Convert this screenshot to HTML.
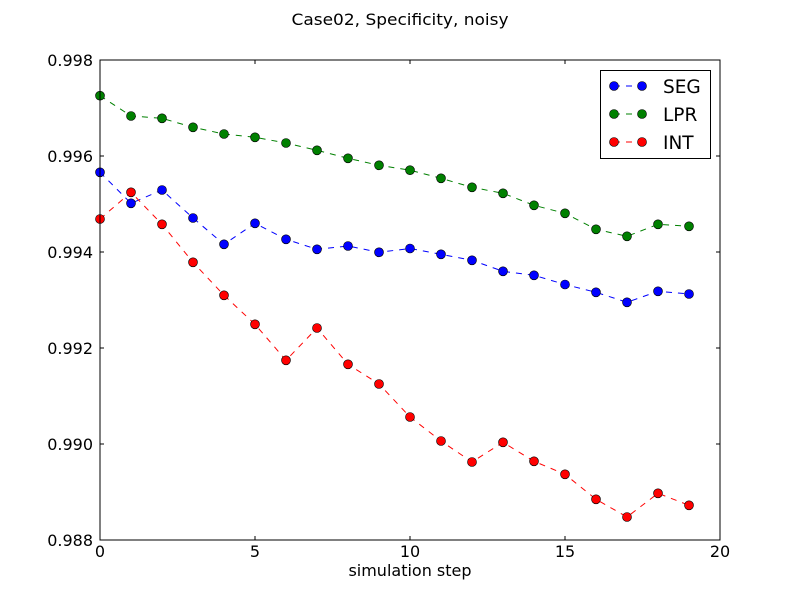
<!DOCTYPE html>
<html><head><meta charset="utf-8"><style>
html,body{margin:0;padding:0;background:#fff;}
svg{display:block;}
text{font-family:"DejaVu Sans","Liberation Sans",sans-serif;fill:#000;}
</style></head><body>
<svg width="800" height="600" xmlns="http://www.w3.org/2000/svg">
<rect width="800" height="600" fill="#fff"/>
<text x="400" y="25" font-size="16" text-anchor="middle" textLength="217" lengthAdjust="spacingAndGlyphs">Case02, Specificity, noisy</text>
<rect x="100" y="60" width="620" height="480" fill="#fff" stroke="none"/>
<g fill="none" stroke-width="1" stroke-dasharray="6,6">
<polyline stroke="#0000ff" points="100,172.3 131,203.3 162,190 193,218 224,244.3 255,223.3 286,239.3 317,249.3 348,246 379,252.3 410,248.5 441,254.3 472,260.3 503,271.3 534,275.3 565,284.5 596,292.3 627,302.3 658,291.3 689,294"/>
</g>
<g fill="#0000ff" stroke="#000" stroke-width="0.6">
<circle cx="100" cy="172.3" r="4.5"/><circle cx="131" cy="203.3" r="4.5"/><circle cx="162" cy="190" r="4.5"/><circle cx="193" cy="218" r="4.5"/><circle cx="224" cy="244.3" r="4.5"/><circle cx="255" cy="223.3" r="4.5"/><circle cx="286" cy="239.3" r="4.5"/><circle cx="317" cy="249.3" r="4.5"/><circle cx="348" cy="246" r="4.5"/><circle cx="379" cy="252.3" r="4.5"/><circle cx="410" cy="248.5" r="4.5"/><circle cx="441" cy="254.3" r="4.5"/><circle cx="472" cy="260.3" r="4.5"/><circle cx="503" cy="271.3" r="4.5"/><circle cx="534" cy="275.3" r="4.5"/><circle cx="565" cy="284.5" r="4.5"/><circle cx="596" cy="292.3" r="4.5"/><circle cx="627" cy="302.3" r="4.5"/><circle cx="658" cy="291.3" r="4.5"/><circle cx="689" cy="294" r="4.5"/>
</g>
<g fill="none" stroke-width="1" stroke-dasharray="6,6">
<polyline stroke="#008000" points="100,95.7 131,116 162,118.3 193,127.3 224,134 255,137.3 286,143 317,150.3 348,158.3 379,165.3 410,170.2 441,178.3 472,187.3 503,193.3 534,205.3 565,213.3 596,229.3 627,236.3 658,224.3 689,226.3"/>
</g>
<g fill="#008000" stroke="#000" stroke-width="0.6">
<circle cx="100" cy="95.7" r="4.5"/><circle cx="131" cy="116" r="4.5"/><circle cx="162" cy="118.3" r="4.5"/><circle cx="193" cy="127.3" r="4.5"/><circle cx="224" cy="134" r="4.5"/><circle cx="255" cy="137.3" r="4.5"/><circle cx="286" cy="143" r="4.5"/><circle cx="317" cy="150.3" r="4.5"/><circle cx="348" cy="158.3" r="4.5"/><circle cx="379" cy="165.3" r="4.5"/><circle cx="410" cy="170.2" r="4.5"/><circle cx="441" cy="178.3" r="4.5"/><circle cx="472" cy="187.3" r="4.5"/><circle cx="503" cy="193.3" r="4.5"/><circle cx="534" cy="205.3" r="4.5"/><circle cx="565" cy="213.3" r="4.5"/><circle cx="596" cy="229.3" r="4.5"/><circle cx="627" cy="236.3" r="4.5"/><circle cx="658" cy="224.3" r="4.5"/><circle cx="689" cy="226.3" r="4.5"/>
</g>
<g fill="none" stroke-width="1" stroke-dasharray="6,6">
<polyline stroke="#ff0000" points="100,219 131,192.3 162,224.3 193,262.3 224,295.3 255,324.3 286,360.3 317,328 348,364.3 379,384 410,417 441,441 472,462 503,442.3 534,461.3 565,474.3 596,499.3 627,517 658,493.3 689,505.3"/>
</g>
<g fill="#ff0000" stroke="#000" stroke-width="0.6">
<circle cx="100" cy="219" r="4.5"/><circle cx="131" cy="192.3" r="4.5"/><circle cx="162" cy="224.3" r="4.5"/><circle cx="193" cy="262.3" r="4.5"/><circle cx="224" cy="295.3" r="4.5"/><circle cx="255" cy="324.3" r="4.5"/><circle cx="286" cy="360.3" r="4.5"/><circle cx="317" cy="328" r="4.5"/><circle cx="348" cy="364.3" r="4.5"/><circle cx="379" cy="384" r="4.5"/><circle cx="410" cy="417" r="4.5"/><circle cx="441" cy="441" r="4.5"/><circle cx="472" cy="462" r="4.5"/><circle cx="503" cy="442.3" r="4.5"/><circle cx="534" cy="461.3" r="4.5"/><circle cx="565" cy="474.3" r="4.5"/><circle cx="596" cy="499.3" r="4.5"/><circle cx="627" cy="517" r="4.5"/><circle cx="658" cy="493.3" r="4.5"/><circle cx="689" cy="505.3" r="4.5"/>
</g>
<!-- axes frame -->
<rect x="100" y="60" width="620" height="480" fill="none" stroke="#000" stroke-width="1"/>
<!-- ticks -->
<g stroke="#000" stroke-width="1">
<line x1="100" y1="60" x2="104" y2="60"/><line x1="716" y1="60" x2="720" y2="60"/>
<line x1="100" y1="156" x2="104" y2="156"/><line x1="716" y1="156" x2="720" y2="156"/>
<line x1="100" y1="252" x2="104" y2="252"/><line x1="716" y1="252" x2="720" y2="252"/>
<line x1="100" y1="348" x2="104" y2="348"/><line x1="716" y1="348" x2="720" y2="348"/>
<line x1="100" y1="444" x2="104" y2="444"/><line x1="716" y1="444" x2="720" y2="444"/>
<line x1="255" y1="540" x2="255" y2="536"/><line x1="255" y1="60" x2="255" y2="64"/>
<line x1="410" y1="540" x2="410" y2="536"/><line x1="410" y1="60" x2="410" y2="64"/>
<line x1="565" y1="540" x2="565" y2="536"/><line x1="565" y1="60" x2="565" y2="64"/>
</g>
<g font-size="16" text-anchor="end">
<text x="93" y="66">0.998</text>
<text x="93" y="162">0.996</text>
<text x="93" y="258">0.994</text>
<text x="93" y="354">0.992</text>
<text x="93" y="450">0.990</text>
<text x="93" y="546">0.988</text>
</g>
<g font-size="16" text-anchor="middle">
<text x="100" y="557">0</text>
<text x="255" y="557">5</text>
<text x="410" y="557">10</text>
<text x="565" y="557">15</text>
<text x="720" y="557">20</text>
<text x="410" y="576">simulation step</text>
</g>
<!-- legend -->
<rect x="600.5" y="70.5" width="110" height="88" fill="#fff" stroke="#000" stroke-width="1"/>
<g stroke-width="1">
<line x1="614" y1="86" x2="642" y2="86" stroke="#0000ff" stroke-dasharray="6,6"/>
<line x1="614" y1="114" x2="642" y2="114" stroke="#008000" stroke-dasharray="6,6"/>
<line x1="614" y1="142" x2="642" y2="142" stroke="#ff0000" stroke-dasharray="6,6"/>
</g>
<g stroke="#000" stroke-width="0.6">
<circle cx="614" cy="86" r="4.5" fill="#0000ff"/><circle cx="642" cy="86" r="4.5" fill="#0000ff"/>
<circle cx="614" cy="114" r="4.5" fill="#008000"/><circle cx="642" cy="114" r="4.5" fill="#008000"/>
<circle cx="614" cy="142" r="4.5" fill="#ff0000"/><circle cx="642" cy="142" r="4.5" fill="#ff0000"/>
</g>
<g font-size="18.5">
<text x="663" y="93">SEG</text>
<text x="663" y="121">LPR</text>
<text x="663" y="149">INT</text>
</g>
</svg>
</body></html>
